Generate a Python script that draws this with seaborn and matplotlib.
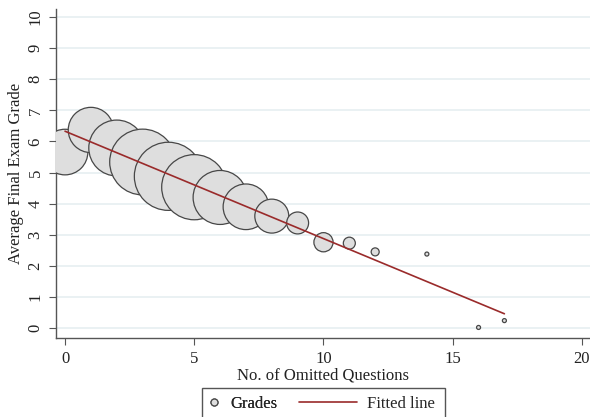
import matplotlib
matplotlib.use("Agg")
import matplotlib.pyplot as plt
import seaborn as sns
import pandas as pd
from matplotlib.lines import Line2D
from matplotlib.patches import Rectangle

# Data
omitted = [0, 1, 2, 3, 4, 5, 6, 7, 8, 9, 10, 11, 12, 14, 16, 17]
avg_grade = [5.66, 6.37, 5.79, 5.34, 4.88, 4.53, 4.20, 3.90, 3.60, 3.38, 2.76, 2.73, 2.45, 2.38, 0.02, 0.24]
n_students = [130, 128, 195, 270, 290, 265, 182, 130, 72, 30, 23, 9, 4, 1, 1, 1]

fit_x = [0, 17]
fit_y = [6.33, 0.46]

df = pd.DataFrame({'omitted': omitted, 'grade': avg_grade, 'n': n_students})

sns.set_style('white')
plt.rcParams['font.family'] = ['Liberation Serif', 'DejaVu Serif']

fig = plt.figure(figsize=(5.9, 4.17), dpi=100)
ax = fig.add_axes([0.0949, 0.1894, 0.905, 0.789])

# bubble area proportional to count
k = 8.3
sns.scatterplot(data=df, x='omitted', y='grade', size='n',
                sizes=(k * min(n_students), k * max(n_students)),
                size_norm=(min(n_students), max(n_students)),
                color='#dedede', edgecolor='#474747', linewidth=0.9,
                alpha=1, legend=False, ax=ax, zorder=3)
sns.lineplot(x=fit_x, y=fit_y, color='#9a2b2b', linewidth=1.2, ax=ax, zorder=4)

ax.set_xlim(-0.35, 20.31)
ax.set_ylim(-0.32, 10.26)
ax.set_xticks(range(0, 21, 5))
ax.set_yticks(range(0, 11))
ax.grid(axis='y', color='#eaf1f3', linewidth=1.4)
ax.set_axisbelow(True)

for side in ['top', 'right']:
    ax.spines[side].set_visible(False)
for side in ['left', 'bottom']:
    ax.spines[side].set_color('#555555')
    ax.spines[side].set_linewidth(1.0)

ax.tick_params(axis='both', direction='out', length=5, width=0.8, color='#555555',
               labelsize=12, labelcolor='#222222', pad=4, left=True, bottom=True)
for lbl in ax.get_yticklabels():
    lbl.set_rotation(90)
    lbl.set_va('center')

ax.set_xlabel('No. of Omitted Questions', fontsize=12, color='#222222', labelpad=1)
ax.set_ylabel('Average Final Exam Grade', fontsize=12, color='#222222')
ax.yaxis.set_label_coords(-0.06, 0.5)

# legend below the plot: short marker key, long line key, one shared frame
grades_handle = Line2D([], [], marker='o', linestyle='none', markersize=5,
                       markerfacecolor='#dedede', markeredgecolor='#474747', markeredgewidth=0.9)
fit_handle = Line2D([], [], color='#9a2b2b', linewidth=1.2)
ly = 1 - 404 / 417
leg1 = fig.legend([grades_handle], ['Grades'], loc='center left',
                  bbox_to_anchor=(207 / 590, ly), frameon=False, fontsize=12,
                  handlelength=0.8, handletextpad=0.6, borderpad=0, borderaxespad=0)
leg2 = fig.legend([fit_handle], ['Fitted line'], loc='center left',
                  bbox_to_anchor=(299 / 590, ly), frameon=False, fontsize=12,
                  handlelength=3.5, handletextpad=0.6, borderpad=0, borderaxespad=0)
fig.add_artist(leg1)
fig.add_artist(Rectangle((202 / 590, -0.05), 243 / 590, 29 / 417 + 0.05,
                         transform=fig.transFigure, fill=False,
                         edgecolor='#555555', linewidth=1.0))

fig.savefig('out.png', dpi=100)
